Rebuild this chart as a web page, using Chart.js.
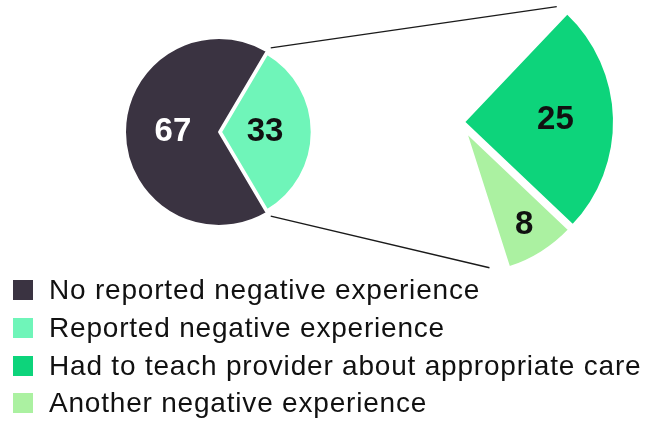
<!DOCTYPE html>
<html>
<head>
<meta charset="utf-8">
<script src="https://cdn.jsdelivr.net/npm/chart.js@4/dist/chart.umd.min.js"></script>
<style>
  html, body { margin: 0; padding: 0; background: #ffffff; }
  #wrap { position: relative; width: 649px; height: 422px; overflow: hidden; }
  canvas { position: absolute; left: 0; top: 0; }
  #legend { position: absolute; left: 0; top: 0; width: 649px; height: 422px; pointer-events: none; }
  .row { position: absolute; left: 13px; height: 20px; white-space: nowrap; }
  .sw { position: absolute; left: 0; top: 0; width: 20px; height: 20px; }
  .tx { position: absolute; left: 36px; top: 0; font-family: "Liberation Sans", Arial, sans-serif;
        font-size: 28px; line-height: 20px; letter-spacing: 0.8px; color: #111111; }
</style>
</head>
<body>
<div id="wrap">
  <canvas id="mainPie" width="649" height="422"></canvas>
  <canvas id="detailPie" width="649" height="422"></canvas>
  <div id="legend"></div>
</div>
<script>
// ---- data ----
const mainLabels = ['No reported negative experience', 'Reported negative experience'];
const mainValues = [67, 33];
const detailLabels = ['Had to teach provider about appropriate care', 'Another negative experience'];
const detailValues = [25, 8];
const totalPercent = 100;

// ---- styles ----
const mainColors = ['#3a3341', '#6ff5b9'];
const detailColors = ['#0dd47b', '#abf1a1'];
const labelFont = 'bold 33px "Liberation Sans", Arial, sans-serif';

function adjustPlugin(cfg) {
  return {
    id: 'adjustArcs',
    afterDatasetsUpdate(chart) {
      const meta = chart.getDatasetMeta(0);
      meta.data.forEach((el, i) => {
        const s = cfg.shift[i];
        const f = cfg.radiusFactor[i];
        if (s) { el.x += s[0]; el.y += s[1]; }
        if (f) { el.outerRadius *= f; }
      });
    }
  };
}

function labelPlugin(cfg) {
  return {
    id: 'sliceLabels',
    afterDatasetsDraw(chart) {
      const ctx = chart.ctx;
      const meta = chart.getDatasetMeta(0);
      const values = chart.data.datasets[0].data;
      meta.data.forEach((el, i) => {
        if (cfg.fraction[i] == null) return;
        const mid = (el.startAngle + el.endAngle) / 2;
        const r = el.outerRadius * cfg.fraction[i];
        ctx.save();
        ctx.font = labelFont;
        ctx.fillStyle = cfg.color[i];
        ctx.textAlign = 'center';
        ctx.textBaseline = 'middle';
        ctx.fillText(String(values[i]), el.x + Math.cos(mid) * r, el.y + Math.sin(mid) * r);
        ctx.restore();
      });
    }
  };
}

const deg = Math.PI / 180;

const mainChart = new Chart(document.getElementById('mainPie'), {
  type: 'pie',
  data: {
    labels: mainLabels,
    datasets: [{
      data: mainValues,
      backgroundColor: mainColors,
      borderColor: '#ffffff',
      borderWidth: 2,
      radius: 94,
      rotation: 149.4,
      clip: false
    }]
  },
  options: {
    responsive: false,
    animation: false,
    events: [],
    layout: { padding: { left: 0, right: 211, top: 0, bottom: 158 } },
    plugins: { legend: { display: false }, tooltip: { enabled: false } }
  },
  plugins: [
    adjustPlugin({ shift: [null, [2, 0]], radiusFactor: [null, 0.965] }),
    labelPlugin({ fraction: [0.49, 0.485], color: ['#ffffff', '#111111'] })
  ]
});

const connectorPlugin = {
  id: 'connectors',
  afterDraw(chart) {
    const ctx = chart.ctx;
    const src = mainChart.getDatasetMeta(0).data[1];
    const d = chart.getDatasetMeta(0).data;
    const big = d[0], small = d[1];
    const rs = src.outerRadius + 7;
    const re = big.outerRadius - 2;
    const p1 = [src.x + Math.cos(src.startAngle) * rs, src.y + Math.sin(src.startAngle) * rs];
    const a1 = big.startAngle - 4.7 * deg;
    const q1 = [big.x + Math.cos(a1) * re, big.y + Math.sin(a1) * re];
    const p2 = [src.x + Math.cos(src.endAngle) * rs, src.y + Math.sin(src.endAngle) * rs];
    const a2 = small.endAngle + 7.8 * deg;
    const q2 = [big.x + Math.cos(a2) * re, big.y + Math.sin(a2) * re];
    ctx.save();
    ctx.strokeStyle = '#1a1a1a';
    ctx.lineWidth = 1.4;
    ctx.beginPath();
    ctx.moveTo(p1[0], p1[1]); ctx.lineTo(q1[0], q1[1]);
    ctx.moveTo(p2[0], p2[1]); ctx.lineTo(q2[0], q2[1]);
    ctx.stroke();
    ctx.restore();
  }
};

const remainder = totalPercent - detailValues.reduce((a, b) => a + b, 0);

new Chart(document.getElementById('detailPie'), {
  type: 'pie',
  data: {
    labels: detailLabels.concat(['']),
    datasets: [{
      data: detailValues.concat([remainder]),
      backgroundColor: detailColors.concat(['rgba(0,0,0,0)']),
      borderColor: ['#ffffff', '#ffffff', 'rgba(0,0,0,0)'],
      borderWidth: [2, 2, 0],
      radius: 150,
      rotation: 43.5,
      clip: false
    }]
  },
  options: {
    responsive: false,
    animation: false,
    events: [],
    layout: { padding: { left: 279, right: 0, top: 0, bottom: 178 } },
    plugins: { legend: { display: false }, tooltip: { enabled: false } }
  },
  plugins: [
    adjustPlugin({ shift: [null, [2, 10], null], radiusFactor: [null, 0.947, null] }),
    labelPlugin({ fraction: [0.61, 0.77, null], color: ['#111111', '#111111', null] }),
    connectorPlugin
  ]
});

// ---- legend ----
const legendItems = mainLabels.map((l, i) => [l, mainColors[i]])
  .concat(detailLabels.map((l, i) => [l, detailColors[i]]));
const legend = document.getElementById('legend');
legendItems.forEach(([label, color], i) => {
  const row = document.createElement('div');
  row.className = 'row';
  row.style.top = (280 + i * 37.8) + 'px';
  const sw = document.createElement('div');
  sw.className = 'sw';
  sw.style.background = color;
  const tx = document.createElement('div');
  tx.className = 'tx';
  tx.textContent = label;
  row.appendChild(sw);
  row.appendChild(tx);
  legend.appendChild(row);
});
</script>
</body>
</html>
